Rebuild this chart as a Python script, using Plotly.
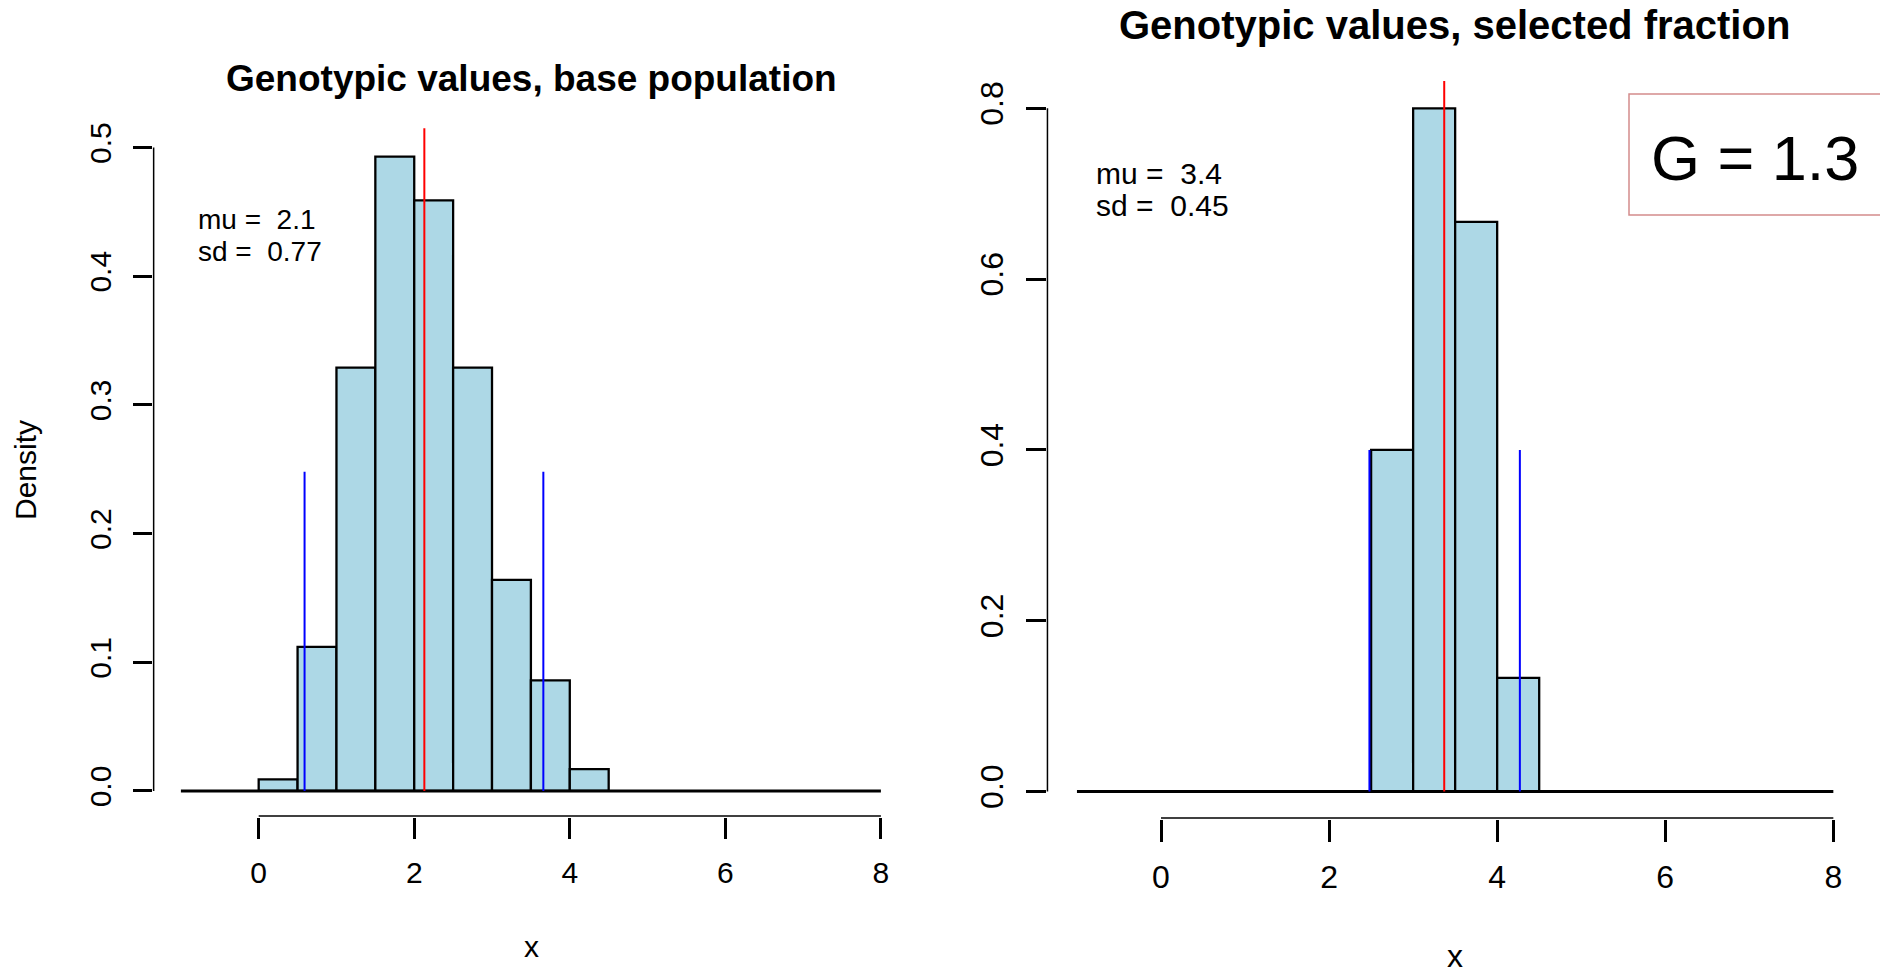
import plotly.graph_objects as go

# ---------------- data ----------------
bin_width = 0.5
base_bin_left = [0.0, 0.5, 1.0, 1.5, 2.0, 2.5, 3.0, 3.5, 4.0]
base_density = [0.009, 0.112, 0.329, 0.493, 0.459, 0.329, 0.164, 0.086, 0.017]
sel_bin_left = [2.5, 3.0, 3.5, 4.0]
sel_density = [0.400, 0.800, 0.667, 0.133]

base_mean_line = 2.13
base_mean_height = 0.515
base_sd_lines = [0.59, 3.66]
base_sd_height = 0.248
sel_mean_line = 3.37
sel_mean_height = 0.835
sel_sd_lines = [2.48, 4.27]
sel_sd_height = 0.40

stat_mu = [2.1, 3.4]
stat_sd = [0.77, 0.45]
gain_text = "G = 1.3"

baseline_x = [-1, 8]
x_ticks = [0, 2, 4, 6, 8]
base_y_ticks = [0.0, 0.1, 0.2, 0.3, 0.4, 0.5]
sel_y_ticks = [0.0, 0.2, 0.4, 0.6, 0.8]
titles = ["Genotypic values, base population", "Genotypic values, selected fraction"]

# ---------------- layout helpers ----------------
W, H = 1880, 973
FONT = "Liberation Sans, Arial, sans-serif"
def fx(p):
    return p / W
def fy(p):
    return 1 - p / H

x_range = [-1.36, 8.36]
base_y_range = [-0.02, 0.52]
sel_y_range = [-0.032, 0.832]

fig = go.Figure()

# histograms
fig.add_trace(go.Bar(x=base_bin_left, y=base_density, width=bin_width, offset=0,
                     marker=dict(color="#ADD8E6", line=dict(color="black", width=2.3)),
                     xaxis="x", yaxis="y", hoverinfo="skip"))
fig.add_trace(go.Bar(x=sel_bin_left, y=sel_density, width=bin_width, offset=0,
                     marker=dict(color="#ADD8E6", line=dict(color="black", width=2.3)),
                     xaxis="x2", yaxis="y2", hoverinfo="skip"))

# baselines
for xa, ya in (("x", "y"), ("x2", "y2")):
    fig.add_trace(go.Scatter(x=baseline_x, y=[0, 0], mode="lines",
                             line=dict(color="black", width=3), xaxis=xa, yaxis=ya,
                             hoverinfo="skip"))

# mean and +/- 2 sd lines
for xv in base_sd_lines:
    fig.add_trace(go.Scatter(x=[xv, xv], y=[0, base_sd_height], mode="lines",
                             line=dict(color="blue", width=2), xaxis="x", yaxis="y",
                             hoverinfo="skip"))
fig.add_trace(go.Scatter(x=[base_mean_line] * 2, y=[0, base_mean_height], mode="lines",
                         line=dict(color="red", width=2), xaxis="x", yaxis="y",
                         hoverinfo="skip"))
for xv in sel_sd_lines:
    fig.add_trace(go.Scatter(x=[xv, xv], y=[0, sel_sd_height], mode="lines",
                             line=dict(color="blue", width=2), xaxis="x2", yaxis="y2",
                             hoverinfo="skip"))
fig.add_trace(go.Scatter(x=[sel_mean_line] * 2, y=[0, sel_mean_height], mode="lines",
                         line=dict(color="red", width=2), xaxis="x2", yaxis="y2",
                         hoverinfo="skip"))

def xaxis_cfg(domain, ticklen, size, anchor):
    return dict(domain=domain, range=x_range, tickmode="array", tickvals=x_ticks,
                ticktext=[str(t) for t in x_ticks], ticks="outside", ticklen=ticklen,
                tickwidth=2.5, tickcolor="black", showline=False, showgrid=False,
                zeroline=False, anchor=anchor, ticklabelstandoff=8,
                tickfont=dict(family=FONT, size=size, color="black"), fixedrange=True)

def yaxis_cfg(domain, rng, ticks, ticklen, size, anchor):
    return dict(domain=domain, range=rng, tickmode="array", tickvals=ticks,
                ticktext=[f"{t:.1f}" for t in ticks], ticks="outside", ticklen=ticklen,
                tickwidth=2.5, tickcolor="black", showline=False, showgrid=False,
                zeroline=False, anchor=anchor, tickangle=-90, ticklabelstandoff=10,
                tickfont=dict(family=FONT, size=size, color="black"), fixedrange=True)

fig.update_layout(
    width=W, height=H, margin=dict(l=0, r=0, t=0, b=0),
    paper_bgcolor="white", plot_bgcolor="white", showlegend=False,
    xaxis=xaxis_cfg([fx(152.9), fx(908.9)], 21, 30, "y"),
    yaxis=yaxis_cfg([fy(816.7), fy(121.8)], base_y_range, base_y_ticks, 19, 30, "x"),
    xaxis2=xaxis_cfg([fx(1046.7), fx(1863.6)], 22, 32, "y2"),
    yaxis2=yaxis_cfg([fy(818.8), fy(81)], sel_y_range, sel_y_ticks, 20, 32, "x2"),
)

# R-style axis lines spanning only the tick range
shapes = [
    dict(type="line", xref="x", yref="y", x0=min(x_ticks), x1=max(x_ticks),
         y0=base_y_range[0], y1=base_y_range[0], line=dict(color="black", width=3)),
    dict(type="line", xref="x", yref="y", x0=x_range[0], x1=x_range[0],
         y0=min(base_y_ticks), y1=max(base_y_ticks), line=dict(color="black", width=3)),
    dict(type="line", xref="x2", yref="y2", x0=min(x_ticks), x1=max(x_ticks),
         y0=sel_y_range[0], y1=sel_y_range[0], line=dict(color="black", width=3)),
    dict(type="line", xref="x2", yref="y2", x0=x_range[0], x1=x_range[0],
         y0=min(sel_y_ticks), y1=max(sel_y_ticks), line=dict(color="black", width=3)),
    dict(type="rect", xref="paper", yref="paper", x0=fx(1629), x1=1.01,
         y0=fy(215), y1=fy(94), line=dict(color="#d48c8c", width=1.5),
         fillcolor="rgba(0,0,0,0)"),
]
fig.update_layout(shapes=shapes)

def ann(text, x, y, size, xanchor="center", bold=False, angle=0):
    return dict(text=f"<b>{text}</b>" if bold else text, x=x, y=y, xref="paper", yref="paper",
                xanchor=xanchor, yanchor="middle", showarrow=False, textangle=angle,
                font=dict(family=FONT, size=size, color="black"))

NB = "\u00a0"
annotations = [
    ann(titles[0], fx(531), fy(79), 37, bold=True),
    ann(titles[1], fx(1454), fy(25), 40, bold=True),
    ann("Density", fx(26), fy(470), 30, angle=-90),
    ann("x", fx(531), fy(946), 30),
    ann("x", fx(1455), fy(956), 32),
    ann(f"mu ={NB}{NB}{stat_mu[0]}", fx(196), fy(219), 28, xanchor="left"),
    ann(f"sd ={NB}{NB}{stat_sd[0]}", fx(196), fy(251), 28, xanchor="left"),
    ann(f"mu ={NB}{NB}{stat_mu[1]}", fx(1094), fy(174), 30, xanchor="left"),
    ann(f"sd ={NB}{NB}{stat_sd[1]}", fx(1094), fy(205), 30, xanchor="left"),
    ann(gain_text, fx(1649), fy(158.5), 63, xanchor="left"),
]
fig.update_layout(annotations=annotations)

fig.write_html("out.html")
